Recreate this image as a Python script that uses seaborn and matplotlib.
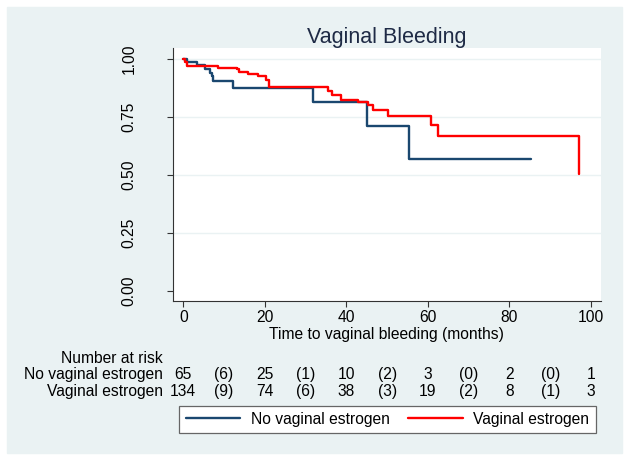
import numpy as np
import pandas as pd
import matplotlib.pyplot as plt
import matplotlib.transforms as mtransforms
from matplotlib.patches import Rectangle
import seaborn as sns

# Kaplan-Meier steps
groups = ["No vaginal estrogen", "Vaginal estrogen"]
no_time = [0, 0.8, 3.4, 5.4, 6.5, 7.0, 7.4, 12.1, 31.9, 45.0, 55.3, 85.2]
no_surv = [1.0, 0.985, 0.972, 0.956, 0.940, 0.925, 0.904, 0.876, 0.813, 0.711, 0.570, 0.570]
ve_time = [0, 0.4, 1.0, 8.6, 13.1, 13.7, 15.9, 18.4, 20.4, 21.1, 35.6, 36.4,
           38.6, 42.9, 45.2, 46.5, 50.2, 60.8, 62.4, 97.1]
ve_surv = [1.0, 0.985, 0.970, 0.963, 0.955, 0.944, 0.934, 0.927, 0.909, 0.879, 0.863, 0.845,
           0.823, 0.814, 0.801, 0.780, 0.753, 0.714, 0.668, 0.502]

# risk table
risk_ticks = [0, 20, 40, 60, 80, 100]
event_ticks = [10, 30, 50, 70, 90]
no_at_risk = [65, 25, 10, 3, 2, 1]
no_events = [6, 1, 2, 0, 0]
ve_at_risk = [134, 74, 38, 19, 8, 3]
ve_events = [9, 6, 3, 2, 1]

colors = {"No vaginal estrogen": "#1a476f", "Vaginal estrogen": "#ff0000"}

df = pd.concat([
    pd.DataFrame({"time": no_time, "surv": no_surv, "group": groups[0]}),
    pd.DataFrame({"time": ve_time, "surv": ve_surv, "group": groups[1]}),
])

sns.set_style("ticks")
plt.rcParams["font.family"] = ["Liberation Sans", "DejaVu Sans"]
plt.rcParams["text.color"] = "black"
fs = 11.25

W, H = 629, 461
fig = plt.figure(figsize=(W / 100, H / 100), dpi=100, facecolor="white")
fig.patches.append(Rectangle((7 / W, 1 - 453 / H), (622 - 7) / W, (453 - 7) / H,
                             transform=fig.transFigure, color="#eaf2f3", zorder=-10))

def fy(y):
    return 1 - y / H

ax = fig.add_axes([172.7 / W, fy(301), (600.7 - 172.7) / W, (301 - 48.5) / H])
ax.set_zorder(1)
ax.set_facecolor("white")

for yv in [0.25, 0.5, 0.75, 1.0]:
    ax.axhline(yv, color="#eaf2f3", lw=1, zorder=0)

sns.lineplot(data=df, x="time", y="surv", hue="group", palette=colors,
             estimator=None, sort=False, drawstyle="steps-post", lw=1.7, ax=ax)

ax.set_xlim(-2.6, 102.4)
ax.set_ylim(-0.0445, 1.0453)
ax.set_xticks(risk_ticks)
ax.set_yticks([0, 0.25, 0.5, 0.75, 1.0])
ax.set_yticklabels(["0.00", "0.25", "0.50", "0.75", "1.00"], rotation=90, va="center")
ax.tick_params(axis="both", labelsize=fs, length=4, width=0.8, color="#333333", labelcolor="black")
ax.tick_params(axis="y", pad=22)
ax.tick_params(axis="x", pad=2.6)
for s in ["top", "right"]:
    ax.spines[s].set_visible(False)
for s in ["left", "bottom"]:
    ax.spines[s].set_color("#333333")
    ax.spines[s].set_linewidth(0.8)

ax.set_xlabel("Time to vaginal bleeding (months)", fontsize=fs, labelpad=1.2, color="black")
ax.set_ylabel("")
ax.set_title("Vaginal Bleeding", fontsize=15.5, color="#1e2a45", pad=1.4)

# number at risk table
tr = mtransforms.blended_transform_factory(ax.transData, fig.transFigure)
fig.text(163 / W, fy(362.7), "Number at risk", ha="right", va="baseline", fontsize=fs)
rows = [(groups[0], no_at_risk, no_events, 379.3), (groups[1], ve_at_risk, ve_events, 396)]
for name, at_risk, events, yb in rows:
    fig.text(163 / W, fy(yb), name, ha="right", va="baseline", fontsize=fs)
    for t, n in zip(risk_ticks, at_risk):
        ax.text(t, fy(yb), str(n), transform=tr, ha="center", va="baseline",
                fontsize=fs, clip_on=False)
    for t, n in zip(event_ticks, events):
        ax.text(t, fy(yb), f"({n})", transform=tr, ha="center", va="baseline",
                fontsize=fs, clip_on=False)

ax.legend_.remove()
handles = [plt.Line2D([], [], color=colors[g], lw=1.7) for g in groups]
leg = fig.legend(handles, groups, loc="center", bbox_to_anchor=(387.5 / W, fy(419.4)),
                 ncol=2, fontsize=fs, frameon=True, fancybox=False, edgecolor="#666666",
                 framealpha=1, handlelength=3.5, handletextpad=0.66, columnspacing=1.2,
                 borderpad=0.4)
leg.get_frame().set_linewidth(0.9)
for t in leg.get_texts():
    t.set_color("black")

fig.savefig("out.png", dpi=100, facecolor=fig.get_facecolor())
